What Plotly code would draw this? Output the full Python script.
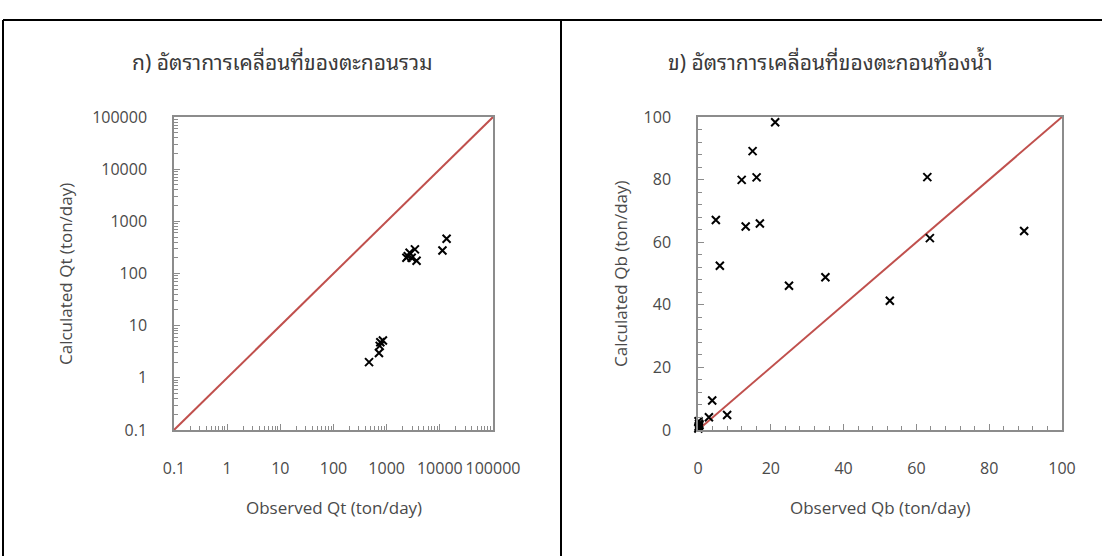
import plotly.graph_objects as go

# ---- data ----
# (a) total sediment transport, log-log
obs_qt = [466, 716, 740, 760, 850, 2350, 2700, 3400, 3650, 2950, 2500, 11200, 13400]
calc_qt = [2.0, 3.0, 4.1, 4.8, 5.2, 200, 250, 290, 175, 200, 215, 275, 465]
line_qt = [0.1, 100000]

# (b) bed-load transport, linear
obs_qb = [21.2, 15.0, 12.0, 16.1, 4.9, 13.1, 17.0, 6.0, 25.0, 35.0, 52.7,
          63.0, 63.7, 89.6, 3.9, 3.0, 8.0, 0.1, 0.2, 0.3, 0.15, 0.4, 0.25]
calc_qb = [98.3, 89.1, 79.9, 80.7, 67.1, 65.0, 66.0, 52.5, 46.1, 48.8, 41.3,
           80.8, 61.3, 63.6, 9.4, 4.1, 4.8, 0.5, 1.2, 2.0, 2.8, 1.6, 0.9]
line_qb = [0, 100]

qt_ticks = [0.1, 1, 10, 100, 1000, 10000, 100000]
qt_labels = ["0.1", "1", "10", "100", "1000", "10000", "100000"]
qt_minor = [m * 10 ** k for k in range(-1, 5) for m in range(2, 10)]

titles = ["ก) อัตราการเคลื่อนที่ของตะกอนรวม", "ข) อัตราการเคลื่อนที่ของตะกอนท้องน้ำ"]
x_titles = ["Observed Qt (ton/day)", "Observed Qb (ton/day)"]
y_titles = ["Calculated Qt (ton/day)", "Calculated Qb (ton/day)"]

W, H = 1102, 556
AXIS_GREY = "#8c8c8c"
RED = "#c0504d"
TEXT = "#4a4a4a"
FONT = "Open Sans, Noto Sans, sans-serif"
THAI_FONT = ("Noto Sans Thai Looped, Loma, Garuda, Leelawadee UI, "
             "Noto Sans Thai, Tahoma, sans-serif")


def px(x):
    return x / W


def py(y):
    return 1 - y / H


marker = dict(symbol="x-thin", size=8, line=dict(width=2, color="black"))

fig = go.Figure()
fig.add_trace(go.Scatter(x=line_qt, y=line_qt, mode="lines",
                         line=dict(color=RED, width=2), xaxis="x", yaxis="y",
                         hoverinfo="skip"))
fig.add_trace(go.Scatter(x=obs_qt, y=calc_qt, mode="markers", marker=marker,
                         xaxis="x", yaxis="y", cliponaxis=False))
fig.add_trace(go.Scatter(x=line_qb, y=line_qb, mode="lines",
                         line=dict(color=RED, width=2), xaxis="x2", yaxis="y2",
                         hoverinfo="skip"))
fig.add_trace(go.Scatter(x=obs_qb, y=calc_qb, mode="markers", marker=marker,
                         xaxis="x2", yaxis="y2", cliponaxis=False))

axis_common = dict(showline=True, linecolor=AXIS_GREY, linewidth=1.5, mirror=True,
                   ticks="inside", ticklen=6, tickwidth=1, tickcolor=AXIS_GREY,
                   showgrid=False, zeroline=False, automargin=False,
                   tickfont=dict(family=FONT, size=16, color=TEXT))

log_common = dict(axis_common, type="log", range=[-1, 5], tickmode="array",
                  tickvals=qt_ticks, ticktext=qt_labels,
                  minor=dict(ticks="inside", ticklen=4, tickwidth=1,
                             tickcolor=AXIS_GREY, tickmode="array",
                             tickvals=qt_minor, showgrid=False))

lin_common = dict(axis_common, range=[0, 100], tickmode="linear", tick0=0, dtick=20,
                  minor=dict(ticks="inside", ticklen=4, tickwidth=1,
                             tickcolor=AXIS_GREY, dtick=4, showgrid=False))

plot_top, plot_bottom = 117, 430
ydom = [py(plot_bottom), py(plot_top)]

fig.update_layout(
    width=W, height=H, autosize=False,
    margin=dict(l=0, r=0, t=0, b=0, pad=0, autoexpand=False),
    paper_bgcolor="white", plot_bgcolor="white",
    showlegend=False,
    xaxis=dict(log_common, domain=[px(174), px(493)], anchor="y",
               ticklabelstandoff=23),
    yaxis=dict(log_common, domain=ydom, anchor="x", ticklabelstandoff=22),
    xaxis2=dict(lin_common, domain=[px(698), px(1062)], anchor="y2",
                ticklabelstandoff=23),
    yaxis2=dict(lin_common, domain=ydom, anchor="x2", ticklabelstandoff=22),
)

annotations = []
for cx, t in zip([282, 830], titles):
    annotations.append(dict(text=t, x=px(cx), y=py(61), xref="paper", yref="paper",
                            showarrow=False, xanchor="center", yanchor="middle",
                            font=dict(family=THAI_FONT, size=21, color="#3a3a3a")))
for cx, t in zip([334, 880], x_titles):
    annotations.append(dict(text=t, x=px(cx), y=py(507), xref="paper", yref="paper",
                            showarrow=False, xanchor="center", yanchor="middle",
                            font=dict(family=FONT, size=17, color=TEXT)))
for cx, t in zip([65, 620], y_titles):
    annotations.append(dict(text=t, x=px(cx), y=py(274), xref="paper", yref="paper",
                            showarrow=False, xanchor="center", yanchor="middle",
                            textangle=-90,
                            font=dict(family=FONT, size=17, color=TEXT)))
fig.update_layout(annotations=annotations)

# panel frames: top rule, outer left edge and the divider between panels
frame = dict(type="line", xref="paper", yref="paper",
             line=dict(color="black", width=2))
shapes = [
    dict(frame, x0=px(3), x1=1, y0=py(20), y1=py(20)),
    dict(frame, x0=px(3), x1=px(3), y0=py(20), y1=0),
    dict(frame, x0=px(561), x1=px(561), y0=py(20), y1=0),
]
fig.update_layout(shapes=shapes)

# let the fixed-size figure sit flush in the page
page_js = ("document.body.style.margin='0';"
           "document.documentElement.style.overflow='hidden';")
fig.write_html("out.html", post_script=page_js)
